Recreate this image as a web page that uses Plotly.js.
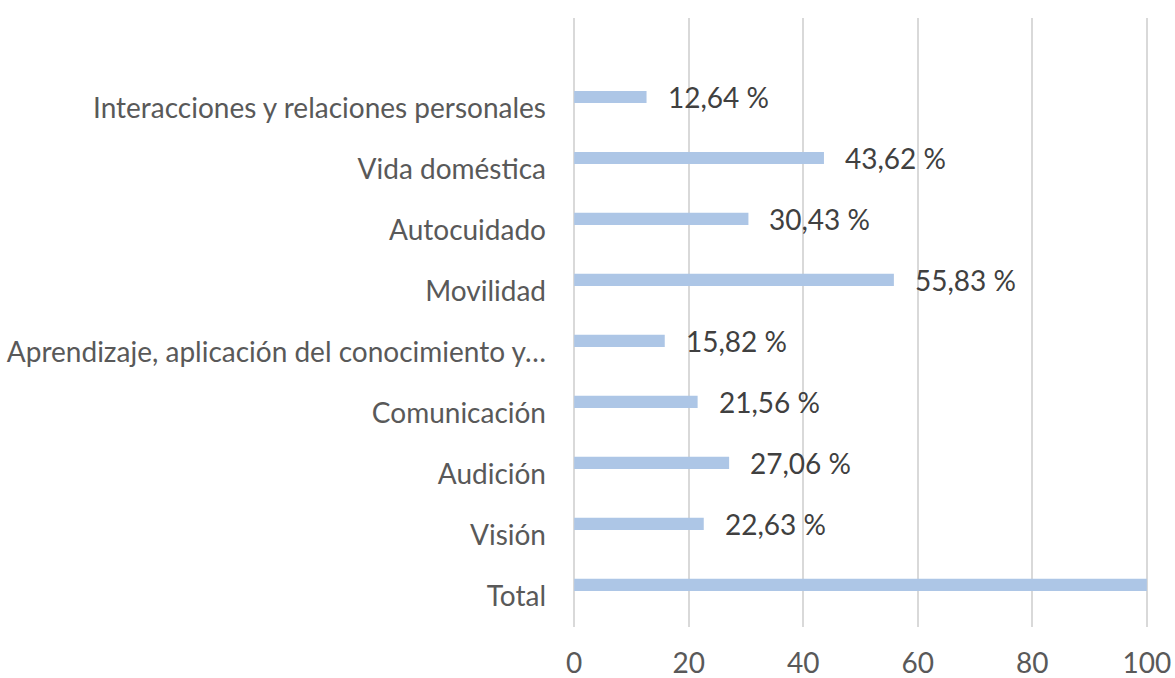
<!DOCTYPE html>
<html>
<head>
<meta charset="utf-8">
<script src="https://cdn.plot.ly/plotly-3.0.1.min.js"></script>
<style>html,body{margin:0;padding:0;background:#fff;}#chart{width:1175px;height:678px;}</style>
</head>
<body>
<div id="chart"></div>
<script>
const categories = [
  "Interacciones y relaciones personales",
  "Vida doméstica",
  "Autocuidado",
  "Movilidad",
  "Aprendizaje, aplicación del conocimiento y…",
  "Comunicación",
  "Audición",
  "Visión",
  "Total"
];
const values = [12.64, 43.62, 30.43, 55.83, 15.82, 21.56, 27.06, 22.63, 100];
const valueLabels = ["12,64 %", "43,62 %", "30,43 %", "55,83 %", "15,82 %", "21,56 %", "27,06 %", "22,63 %", ""];
const xTicks = [0, 20, 40, 60, 80, 100];

const FONT = "Lato, 'Open Sans', sans-serif";

const trace = {
  type: "bar",
  orientation: "h",
  x: values,
  y: categories,
  width: 0.2,
  offset: -0.28,
  marker: {color: "#adc6e6"},
  hoverinfo: "x+y"
};

const annotations = categories.map((c, i) => ({
  x: values[i],
  y: c,
  xref: "x",
  yref: "y",
  text: valueLabels[i],
  showarrow: false,
  xanchor: "left",
  yanchor: "middle",
  xshift: 19,
  yshift: 11,
  font: {family: FONT, size: 28, color: "#404040"}
})).filter(a => a.text !== "");

const layout = {
  width: 1175,
  height: 678,
  margin: {l: 573, r: 27, t: 18, b: 51},
  paper_bgcolor: "#ffffff",
  plot_bgcolor: "#ffffff",
  showlegend: false,
  font: {family: FONT, size: 28, color: "#595959"},
  xaxis: {
    range: [-0.2, 100.2],
    tickvals: xTicks,
    ticktext: xTicks.map(String),
    showgrid: true,
    gridcolor: "#d9d9d9",
    gridwidth: 2,
    zeroline: false,
    showline: false,
    ticks: "",
    ticklabelstandoff: 17,
    tickfont: {family: FONT, size: 28, color: "#595959"},
    fixedrange: true
  },
  yaxis: {
    type: "category",
    categoryorder: "array",
    categoryarray: categories,
    range: [8.51, -1.475],
    showgrid: false,
    zeroline: false,
    showline: false,
    ticks: "",
    ticklabelstandoff: 26,
    tickfont: {family: FONT, size: 28, color: "#595959"},
    fixedrange: true
  },
  annotations: annotations
};

Plotly.newPlot("chart", [trace], layout, {displayModeBar: false, staticPlot: true});
</script>
</body>
</html>
